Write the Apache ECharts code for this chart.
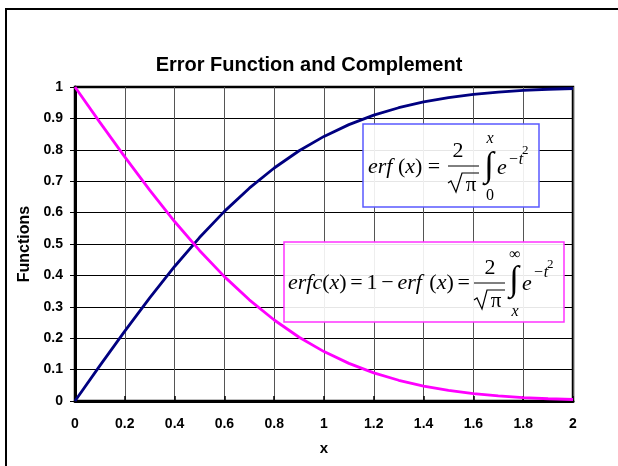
<!DOCTYPE html>
<html>
<head>
<meta charset="utf-8">
<title>Error Function and Complement</title>
<script src="https://cdn.jsdelivr.net/npm/echarts@6/dist/echarts.min.js"></script>
<style>
  html, body { margin: 0; padding: 0; background: #ffffff; }
  #chart { width: 618px; height: 466px; }
</style>
</head>
<body>
<div id="chart"></div>
<script>
// Sample points along x
const xValues = [0, 0.1, 0.2, 0.3, 0.4, 0.5, 0.6, 0.7, 0.8, 0.9, 1.0,
                 1.1, 1.2, 1.3, 1.4, 1.5, 1.6, 1.7, 1.8, 1.9, 2.0];

// erf(x) at each sample
const erfValues = [0, 0.1125, 0.2227, 0.3286, 0.4284, 0.5205, 0.6039, 0.6778, 0.7421, 0.7969, 0.8427,
                   0.8802, 0.9103, 0.9340, 0.9523, 0.9661, 0.9763, 0.9838, 0.9891, 0.9928, 0.9953];

// erfc(x) at each sample
const erfcValues = [1, 0.8875, 0.7773, 0.6714, 0.5716, 0.4795, 0.3961, 0.3222, 0.2579, 0.2031, 0.1573,
                    0.1198, 0.0897, 0.0660, 0.0477, 0.0339, 0.0237, 0.0162, 0.0109, 0.0072, 0.0047];

const chartTitle = 'Error Function and Complement';
const xAxisName = 'x';
const yAxisName = 'Functions';

const sansFont = '"Liberation Sans", Arial, sans-serif';
const serifFont = '"Liberation Serif", "Times New Roman", serif';

const pairs = (ys) => xValues.map((x, i) => [x, ys[i]]);

// Text piece for the formula boxes
function piece(text, x, y, size, italic, align) {
  return {
    type: 'text', x: x, y: y, z: 21, silent: true,
    style: {
      text: text, fill: '#000', fontFamily: serifFont, fontSize: size,
      fontStyle: italic ? 'italic' : 'normal',
      align: align || 'center', verticalAlign: 'middle'
    }
  };
}
function hline(x1, x2, y) {
  return { type: 'line', z: 21, silent: true, shape: { x1: x1, y1: y, x2: x2, y2: y },
           style: { stroke: '#000', lineWidth: 1 } };
}
function radical(x0, y0, xb, yb, xt, yt, xe) {
  return { type: 'polyline', z: 21, silent: true,
           shape: { points: [[x0, y0], [x0 + 3, y0 - 2], [xb, yb], [xt, yt], [xe, yt]] },
           style: { stroke: '#000', lineWidth: 1.2, fill: null } };
}
function box(x, y, w, h, color) {
  return { type: 'rect', z: 20, silent: true, shape: { x: x, y: y, width: w, height: h },
           style: { fill: 'rgba(255,255,255,0.9)', stroke: color, lineWidth: 1.5 } };
}

const richMain = {
  i: { fontFamily: serifFont, fontStyle: 'italic', fontSize: 22, fill: '#000' },
  n: { fontFamily: serifFont, fontStyle: 'normal', fontSize: 22, fill: '#000' },
  s: { fontFamily: serifFont, fontStyle: 'normal', fontSize: 15, fill: '#000' }
};
function formulaText(text, x, y) {
  return { type: 'text', x: x, y: y, z: 21, silent: true,
           style: { text: text, rich: richMain, fontFamily: serifFont, fontSize: 22,
                    align: 'left', verticalAlign: 'middle', fill: '#000' } };
}

const graphics = [
  // outer frame
  { type: 'rect', z: 30, silent: true, shape: { x: 6, y: 9, width: 700, height: 600 },
    style: { fill: null, stroke: '#000', lineWidth: 2 } },

  // erf definition
  box(363, 124, 176, 83, '#5a5aff'),
  formulaText('{i|erf} {n|(}{i|x}{n|) =}', 368, 167),
  piece('2', 458, 151, 22, false),
  hline(448, 479, 166),
  radical(448, 183, 456, 192, 462, 173, 479),
  piece('π', 471, 185, 21, false),
  piece('∫', 489, 167, 35, false),
  piece('x', 490, 139, 16, true),
  piece('0', 490, 196, 16, false),
  piece('e', 497, 168, 22, true, 'left'),
  piece('−t', 508, 160, 16, true, 'left'),
  piece('2', 522, 151, 13, false, 'left'),

  // erfc definition
  box(284, 242, 280, 80, '#ff33ff'),
  formulaText('{i|erfc}{n|(}{i|x}{n|)}{s| }{n|=}{s| }{n|1}{s| }{n|−}{s| }{i|erf}{s|  }{n|(}{i|x}{n|)}{s| }{n|=}', 288, 283),
  piece('2', 490, 268, 22, false),
  hline(474, 505, 283),
  radical(474, 300, 482, 309, 487, 290, 505),
  piece('π', 496, 301, 21, false),
  piece('∫', 514, 281, 35, false),
  piece('∞', 515, 255, 16, false),
  piece('x', 515, 312, 16, true),
  piece('e', 522, 284, 22, true, 'left'),
  piece('−t', 533, 273, 16, true, 'left'),
  piece('2', 547, 265, 13, false, 'left')
];

const chart = echarts.init(document.getElementById('chart'), null, { renderer: 'canvas' });

chart.setOption({
  backgroundColor: '#ffffff',
  animation: false,
  title: {
    text: chartTitle,
    left: 'center',
    top: 55,
    padding: 0,
    textStyle: { fontFamily: sansFont, fontWeight: 'bold', fontSize: 20, color: '#000' }
  },
  grid: {
    left: 75, right: 45, top: 87, bottom: 65,
    show: true, borderColor: '#000', borderWidth: 2.5, backgroundColor: 'transparent'
  },
  xAxis: {
    type: 'value', min: 0, max: 2, interval: 0.2,
    name: xAxisName, nameLocation: 'middle', nameGap: 40,
    nameTextStyle: { fontFamily: sansFont, fontWeight: 'bold', fontSize: 15, color: '#000' },
    axisLine: { show: true, lineStyle: { color: '#000', width: 3 } },
    axisTick: { show: true, inside: true, length: 5, lineStyle: { color: '#000', width: 1.5 } },
    axisLabel: { margin: 16, fontFamily: sansFont, fontWeight: 'bold', fontSize: 14, color: '#000' },
    splitLine: { show: true, lineStyle: { color: '#555', width: 1 } }
  },
  yAxis: {
    type: 'value', min: 0, max: 1, interval: 0.1,
    name: yAxisName, nameLocation: 'middle', nameGap: 35, nameRotate: 90,
    nameTextStyle: { fontFamily: sansFont, fontWeight: 'bold', fontSize: 16, color: '#000' },
    axisLine: { show: true, lineStyle: { color: '#000', width: 3 } },
    axisTick: { show: true, inside: false, length: 5, lineStyle: { color: '#000', width: 1 } },
    axisLabel: { margin: 12, fontFamily: sansFont, fontWeight: 'bold', fontSize: 14, color: '#000' },
    splitLine: { show: true, lineStyle: { color: '#000', width: 1 } }
  },
  series: [
    {
      name: 'erf(x)', type: 'line', data: pairs(erfValues),
      showSymbol: false, symbol: 'none', smooth: false, z: 5,
      lineStyle: { color: '#000080', width: 2.8 }
    },
    {
      name: 'erfc(x)', type: 'line', data: pairs(erfcValues),
      showSymbol: false, symbol: 'none', smooth: false, z: 5,
      lineStyle: { color: '#ff00ff', width: 2.8 }
    }
  ],
  graphic: graphics
});
</script>
</body>
</html>
